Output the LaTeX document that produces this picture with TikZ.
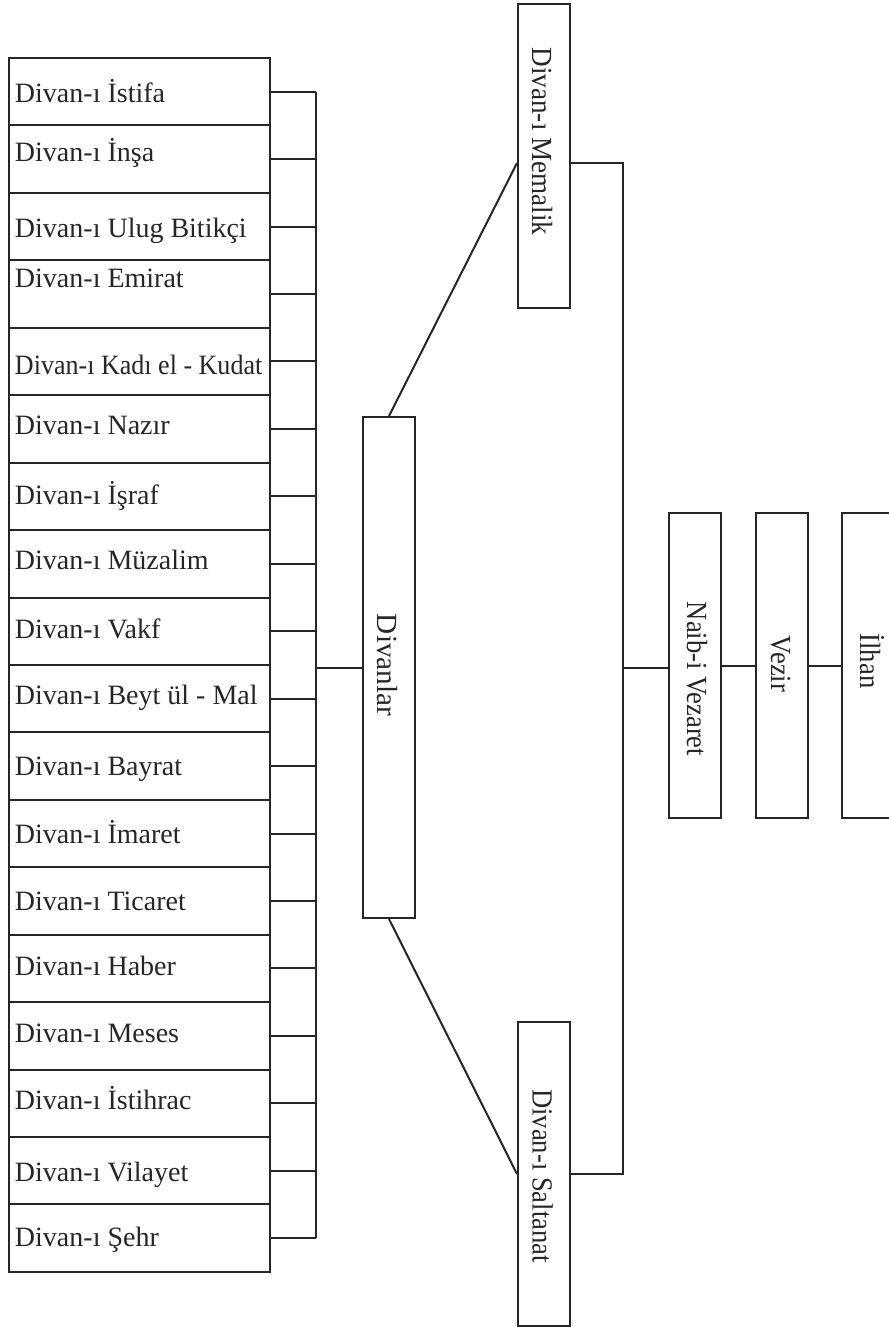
\documentclass[tikz,border=0pt]{standalone}
\usepackage{fontspec}
\setmainfont{Liberation Serif}
\begin{document}
\begin{tikzpicture}[x=0.5pt,y=-0.5pt,line width=1pt,color=black!85,
  box/.style={draw, rectangle, minimum width=130.5pt, minimum height=33.72pt, inner sep=0pt},
  lbl/.style={anchor=base west, inner sep=0pt, font=\fontsize{14}{16}\selectfont},
  vbox/.style={draw, rectangle, minimum width=26pt, inner sep=0pt},
  vlbl/.style={rotate=-90, anchor=base, inner sep=0pt, font=\fontsize{14.6}{17}\selectfont}]
\useasboundingbox (0,0) rectangle (889,1329);
\coordinate (busx) at (316,0);
\coordinate (busr) at (623,668);
% left column
\foreach \t/\d [count=\i from 0] in {
  Divan-ı İstifa/11, Divan-ı İnşa/2.5, Divan-ı Ulug Bitikçi/11, Divan-ı Emirat/-6.5,
  {\scalebox{0.93}[1]{Divan-ı Kadı el - Kudat}}/13.5, Divan-ı Nazır/6, Divan-ı İşraf/8.5,
  Divan-ı Müzalim/6, Divan-ı Vakf/7, Divan-ı Beyt ül - Mal/6, Divan-ı Bayrat/9,
  Divan-ı İmaret/10, Divan-ı Ticaret/9, Divan-ı Haber/7, Divan-ı Meses/7,
  Divan-ı İstihrac/6, Divan-ı Vilayet/10.5, Divan-ı Şehr/8} {
  \pgfmathsetmacro\yc{58+67.44*\i+33.72}
  \node[box] (b\i) at (139.5,\yc) {};
  \node[lbl] (t\i) at (14,\yc+\d) {\t};
  \draw (b\i.east) -- (b\i.east -| busx);
}
\draw (b0.east -| busx) -- (b17.east -| busx);
% middle
\node[vbox, minimum height=250.5pt] (div) at (389,667.5) {};
\node[vlbl] (tdiv) at (377,665) {Divanlar};
\node[vbox, minimum height=152pt] (mem) at (544,156) {};
\node[vlbl] (tmem) at (532,141.5) {\scalebox{0.93}[1]{Divan-ı Memalik}};
\node[vbox, minimum height=152pt] (sal) at (544,1174) {};
\node[vlbl] (tsal) at (532.5,1176) {\scalebox{0.91}[1]{Divan-ı Saltanat}};
\draw (busx |- div.west) -- (div.west);
\draw (div.north) -- ([yshift=-3.5pt]mem.west);
\draw (div.south) -- (sal.west);
\draw ([yshift=-3.5pt]mem.east) -| (sal.east -| busr) -- (sal.east);
% right
\node[vbox, minimum height=152.5pt] (naib) at (695,665.5) {};
\node[vlbl] (tnaib) at (687,679) {\scalebox{0.91}[1]{Naib-i Vezaret}};
\node[vbox, minimum height=152.5pt] (vez) at (782,665.5) {};
\node[vlbl] (tvez) at (771,664) {\scalebox{0.91}[1]{Vezir}};
\node[vbox, minimum height=152.5pt] (ilh) at (868,665.5) {};
\node[vlbl] (tilh) at (860,661) {\scalebox{0.91}[1]{İlhan}};
\draw (busr) -- (busr -| naib.west);
\draw (naib) -- (vez);
\draw (vez) -- (ilh);
\end{tikzpicture}
\end{document}
